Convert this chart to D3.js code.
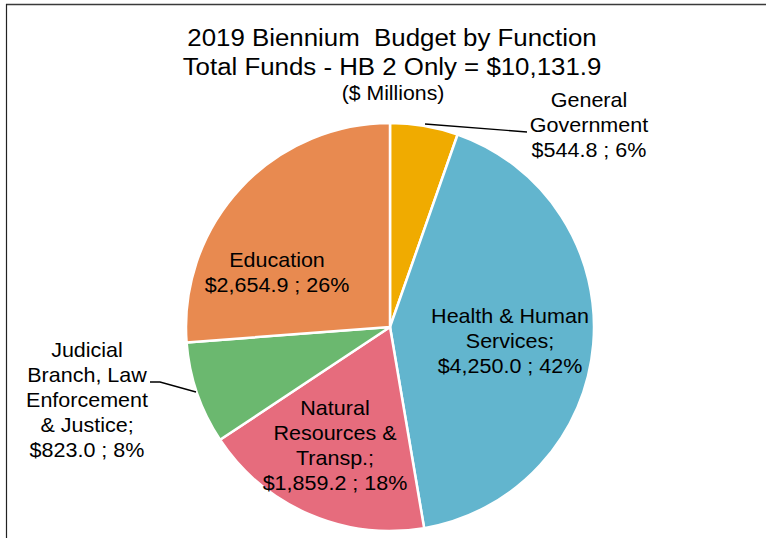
<!DOCTYPE html>
<html>
<head>
<meta charset="utf-8">
<script src="https://cdn.jsdelivr.net/npm/d3@7"></script>
<style>
  html, body { margin: 0; padding: 0; background: #fff; }
  svg { display: block; font-family: "Liberation Sans", Arial, sans-serif; }
  svg text { white-space: pre; }
</style>
</head>
<body>
<svg id="chart" width="766" height="538"></svg>
<script>
// Budget by function, $ millions
const categories = [
  "General Government",
  "Health & Human Services",
  "Natural Resources & Transp.",
  "Judicial Branch, Law Enforcement & Justice",
  "Education"
];
const values = [544.8, 4250.0, 1859.2, 823.0, 2654.9];
const percents = [6, 42, 18, 8, 26];
const labelNames = [
  ["General", "Government"],
  ["Health & Human", "Services;"],
  ["Natural", "Resources &", "Transp.;"],
  ["Judicial", "Branch, Law", "Enforcement", "& Justice;"],
  ["Education"]
];
const titleLines = [
  "2019 Biennium  Budget by Function",
  "Total Funds - HB 2 Only = $10,131.9"
];
const subtitle = "($ Millions)";

// Presentation
const colors = ["#F0AB00", "#62B5CE", "#E66C7D", "#6BB86F", "#E88A50"];
const cx = 390, cy = 327, radius = 204;
const lineH = 25;
const stretch = 1.05;   // text is set slightly wide
// label anchor (centre x, first baseline y)
const labelPos = [
  [589, 107], [510, 323], [335, 415], [87, 357], [277, 267]
];

const svg = d3.select("#chart");

// frame
svg.append("line").attr("x1", 6).attr("x2", 766).attr("y1", 4.5).attr("y2", 4.5)
  .attr("stroke", "#3a3a3a").attr("stroke-width", 1.6);
svg.append("line").attr("x1", 6.5).attr("x2", 6.5).attr("y1", 4).attr("y2", 538)
  .attr("stroke", "#222").attr("stroke-width", 1.2);

// helper: centred text block, stretched horizontally
function block(parent, x, y, lines, size, sx) {
  const t = parent.append("g")
    .attr("transform", `translate(${x},${y}) scale(${sx},1)`)
    .append("text")
    .attr("text-anchor", "middle")
    .attr("font-size", size).attr("fill", "#000");
  lines.forEach((ln, j) => {
    t.append("tspan").attr("x", 0).attr("dy", j === 0 ? 0 : lineH).text(ln);
  });
  return t;
}

// titles
titleLines.forEach((ln, i) => block(svg, 392, 46 + i * 29, [ln], 24.5, 1.055));
block(svg, 393, 100, [subtitle], 19.5, 1.09);

// pie
const pie = d3.pie().sort(null).value(d => d);
const arc = d3.arc().innerRadius(0).outerRadius(radius);
const arcs = pie(values);

const g = svg.append("g").attr("transform", `translate(${cx},${cy})`);
g.selectAll("path").data(arcs).join("path")
  .attr("d", arc)
  .attr("fill", (d, i) => colors[i])
  .attr("stroke", "#fff").attr("stroke-width", 2.5)
  .attr("stroke-linejoin", "round");

// leader lines
const leader = [
  [[425, 124], [527, 132]],
  [[150, 382], [160, 382], [196, 392]]
];
svg.selectAll("path.leader").data(leader).join("path")
  .attr("class", "leader")
  .attr("d", d => d3.line()(d))
  .attr("fill", "none").attr("stroke", "#000").attr("stroke-width", 1.3);

// data labels
const fmt = d3.format(",.1f");
labelNames.forEach((names, i) => {
  const lines = names.concat([`$${fmt(values[i])} ; ${percents[i]}%`]);
  block(svg, labelPos[i][0], labelPos[i][1], lines, 20.5, stretch);
});
</script>
</body>
</html>
